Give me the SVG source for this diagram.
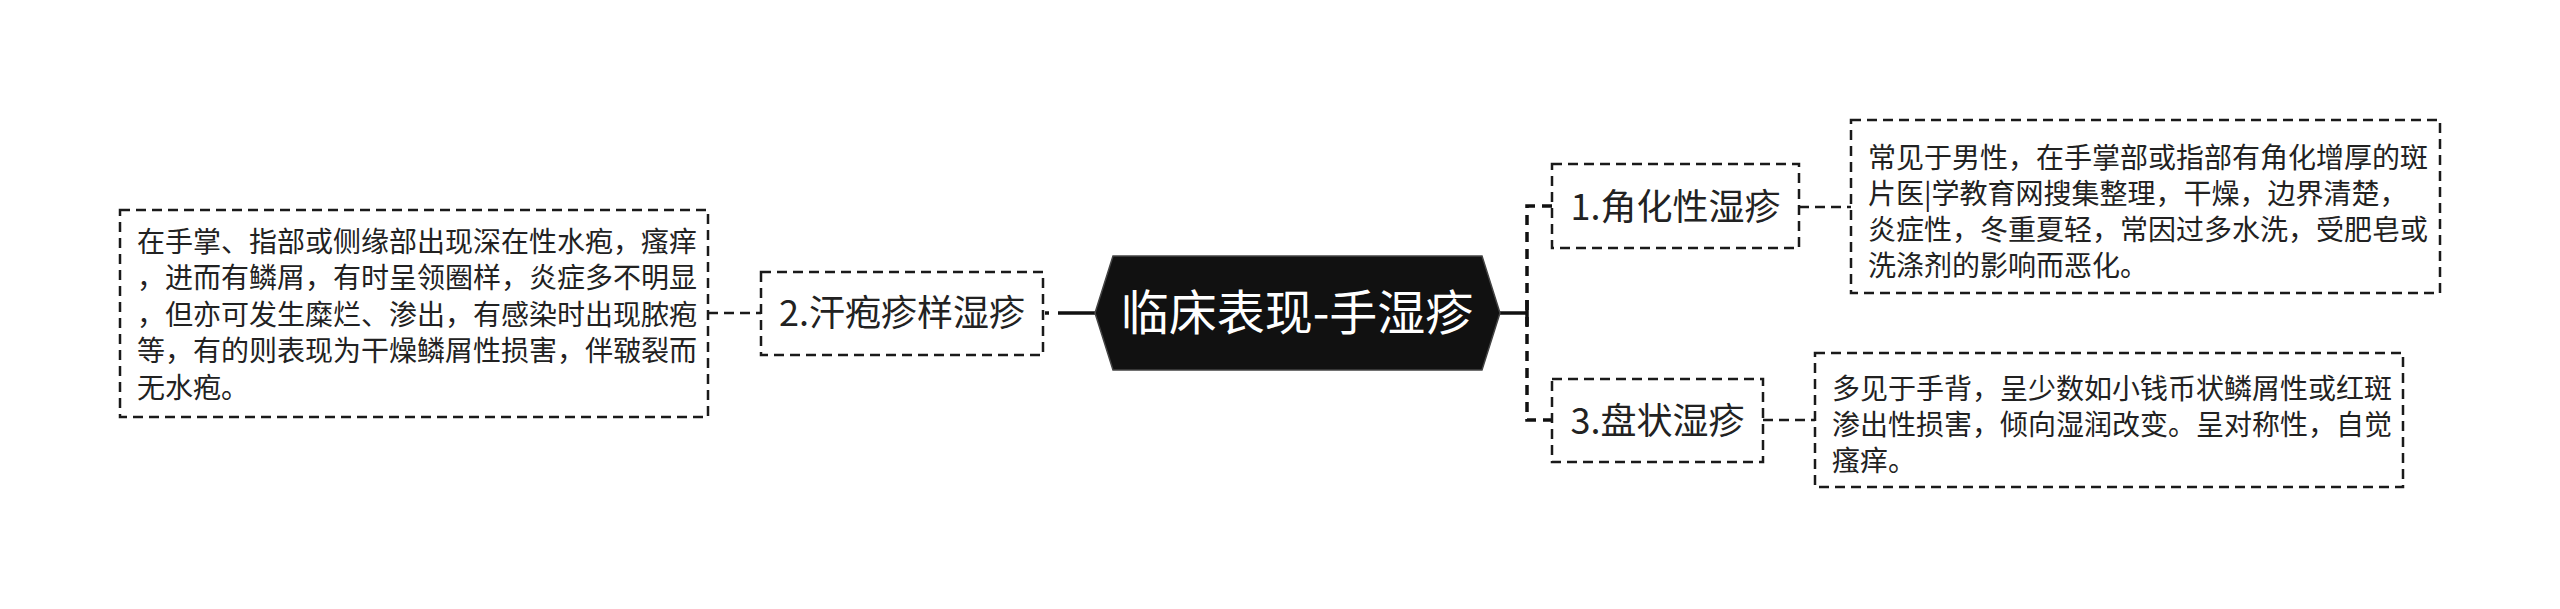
<svg xmlns="http://www.w3.org/2000/svg" width="2560" height="609" viewBox="0 0 2560 609">
  <style>
    .box { fill: #ffffff; stroke: #1a1a1a; stroke-width: 2.5; stroke-dasharray: 10 6; }
    .lbl { font-family: "Noto Sans CJK SC", "Noto Sans", sans-serif; font-size: 36px; fill: #222222; text-anchor: middle; }
    .leaf { font-family: "Noto Sans CJK SC", "Noto Sans", sans-serif; font-size: 28px; fill: #222222; }
    .root { font-family: "Noto Sans CJK SC", "Noto Sans", sans-serif; font-size: 48px; fill: #ffffff; text-anchor: middle; }
    .thin { fill: none; stroke: #1a1a1a; stroke-width: 2.5; stroke-dasharray: 10 6; }
    .thick { fill: none; stroke: #111111; stroke-width: 3.5; }
    .spine { fill: none; stroke: #111111; stroke-width: 3.5; stroke-dasharray: 10 7; }
  </style>
  <rect width="2560" height="609" fill="#ffffff"/>

  <g id="connectors">
    <line class="thick" x1="1499" y1="313" x2="1527" y2="313"/>
    <path class="spine" d="M1552 206 H1527 V420 H1552"/>
    <line class="thick" x1="1527" y1="300" x2="1527" y2="326"/>
    <line class="thick" x1="1058" y1="313" x2="1095" y2="313"/>
    <line class="thick" x1="1045" y1="313" x2="1049" y2="313"/>
    <line class="thin" x1="708" y1="313" x2="761" y2="313"/>
    <line class="thin" x1="1799" y1="207" x2="1851" y2="207"/>
    <line class="thin" x1="1763" y1="420" x2="1815" y2="420"/>
  </g>

  <g id="root">
    <polygon points="1095,313 1113,256 1482,256 1500,313 1482,370 1113,370" fill="#111111" stroke="#444444" stroke-width="1.5"/>
    <text class="root" x="1297" y="330">临床表现-手湿疹</text>
  </g>

  <g id="node2">
    <rect class="box" x="761" y="272" width="282" height="83"/>
    <text class="lbl" x="902" y="326">2.汗疱疹样湿疹</text>
  </g>

  <g id="leaf2">
    <rect class="box" x="120" y="210" width="588" height="207"/>
    <text class="leaf" x="137" y="251.5">在手掌、指部或侧缘部出现深在性水疱，瘙痒</text>
    <text class="leaf" x="137" y="288">，进而有鳞屑，有时呈领圈样，炎症多不明显</text>
    <text class="leaf" x="137" y="324.5">，但亦可发生糜烂、渗出，有感染时出现脓疱</text>
    <text class="leaf" x="137" y="361">等，有的则表现为干燥鳞屑性损害，伴皲裂而</text>
    <text class="leaf" x="137" y="397.5">无水疱。</text>
  </g>

  <g id="node1">
    <rect class="box" x="1552" y="164" width="247" height="84"/>
    <text class="lbl" x="1675.5" y="219.5">1.角化性湿疹</text>
  </g>

  <g id="leaf1">
    <rect class="box" x="1851" y="120" width="589" height="173"/>
    <text class="leaf" x="1868" y="167.5">常见于男性，在手掌部或指部有角化增厚的斑</text>
    <text class="leaf" x="1868" y="203.5">片医|学教育网搜集整理，干燥，边界清楚，</text>
    <text class="leaf" x="1868" y="239.5">炎症性，冬重夏轻，常因过多水洗，受肥皂或</text>
    <text class="leaf" x="1868" y="275.5">洗涤剂的影响而恶化。</text>
  </g>

  <g id="node3">
    <rect class="box" x="1552" y="379" width="211" height="83"/>
    <text class="lbl" x="1657.5" y="433.5">3.盘状湿疹</text>
  </g>

  <g id="leaf3">
    <rect class="box" x="1815" y="353" width="588" height="134"/>
    <text class="leaf" x="1832" y="398.5">多见于手背，呈少数如小钱币状鳞屑性或红斑</text>
    <text class="leaf" x="1832" y="434.5">渗出性损害，倾向湿润改变。呈对称性，自觉</text>
    <text class="leaf" x="1832" y="470.5">瘙痒。</text>
  </g>
</svg>
